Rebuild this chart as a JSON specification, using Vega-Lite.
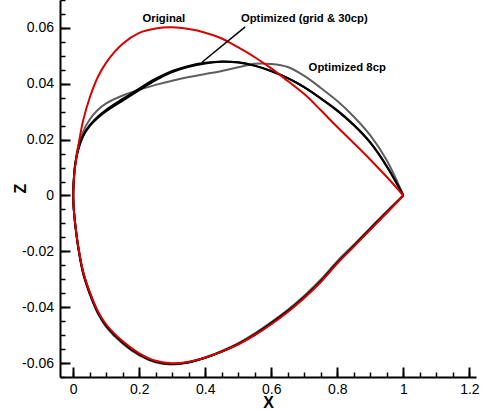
{
  "$schema": "https://vega.github.io/schema/vega-lite/v6.json",
  "width": 416,
  "height": 377,
  "autosize": {"type": "none"},
  "padding": {"left": 60, "top": 0, "right": 8, "bottom": 32},
  "background": "white",
  "config": {"view": {"stroke": null}, "font": "Liberation Sans"},
  "datasets": {
    "curves": [
      {"i": 0, "X": 1.0, "red": 0, "grid": 0, "cp30": 0, "cp8": 0},
      {"i": 1, "X": 0.95, "red": 0.0066, "grid": 0.0105, "cp30": 0.0103, "cp8": 0.0125},
      {"i": 2, "X": 0.9, "red": 0.0128, "grid": 0.019, "cp30": 0.0188, "cp8": 0.0215},
      {"i": 3, "X": 0.85, "red": 0.0187, "grid": 0.0253, "cp30": 0.0251, "cp8": 0.0282},
      {"i": 4, "X": 0.8, "red": 0.0245, "grid": 0.0305, "cp30": 0.0303, "cp8": 0.0338},
      {"i": 5, "X": 0.75, "red": 0.0305, "grid": 0.0348, "cp30": 0.0347, "cp8": 0.0385},
      {"i": 6, "X": 0.7, "red": 0.0363, "grid": 0.0388, "cp30": 0.0387, "cp8": 0.0428},
      {"i": 7, "X": 0.65, "red": 0.041, "grid": 0.042, "cp30": 0.042, "cp8": 0.046},
      {"i": 8, "X": 0.6, "red": 0.0455, "grid": 0.0445, "cp30": 0.0446, "cp8": 0.0471},
      {"i": 9, "X": 0.55, "red": 0.0495, "grid": 0.0464, "cp30": 0.0465, "cp8": 0.0472},
      {"i": 10, "X": 0.5, "red": 0.053, "grid": 0.0476, "cp30": 0.0477, "cp8": 0.0459},
      {"i": 11, "X": 0.45, "red": 0.0562, "grid": 0.0479, "cp30": 0.048, "cp8": 0.0446},
      {"i": 12, "X": 0.4, "red": 0.0583, "grid": 0.0473, "cp30": 0.0475, "cp8": 0.0435},
      {"i": 13, "X": 0.35, "red": 0.0596, "grid": 0.0461, "cp30": 0.0464, "cp8": 0.0424},
      {"i": 14, "X": 0.3, "red": 0.0602, "grid": 0.0442, "cp30": 0.0446, "cp8": 0.0411},
      {"i": 15, "X": 0.25, "red": 0.0598, "grid": 0.0413, "cp30": 0.0418, "cp8": 0.0396},
      {"i": 16, "X": 0.2, "red": 0.0582, "grid": 0.0377, "cp30": 0.0383, "cp8": 0.0379},
      {"i": 17, "X": 0.15, "red": 0.0543, "grid": 0.034, "cp30": 0.0346, "cp8": 0.0358},
      {"i": 18, "X": 0.1, "red": 0.0476, "grid": 0.0302, "cp30": 0.0307, "cp8": 0.033},
      {"i": 19, "X": 0.075, "red": 0.0425, "grid": 0.0278, "cp30": 0.0283, "cp8": 0.0307},
      {"i": 20, "X": 0.05, "red": 0.035, "grid": 0.0248, "cp30": 0.0252, "cp8": 0.0272},
      {"i": 21, "X": 0.03, "red": 0.0268, "grid": 0.0212, "cp30": 0.0215, "cp8": 0.0228},
      {"i": 22, "X": 0.015, "red": 0.0174, "grid": 0.0163, "cp30": 0.0165, "cp8": 0.0175},
      {"i": 23, "X": 0.006, "red": 0.0104, "grid": 0.011, "cp30": 0.0111, "cp8": 0.0112},
      {"i": 24, "X": 0.002, "red": 0.0056, "grid": 0.006, "cp30": 0.006, "cp8": 0.006},
      {"i": 25, "X": 0.0, "red": 0, "grid": 0, "cp30": 0, "cp8": 0},
      {"i": 26, "X": 0.002, "red": -0.0052, "grid": -0.0053, "cp30": -0.0053, "cp8": -0.0055},
      {"i": 27, "X": 0.006, "red": -0.01, "grid": -0.0102, "cp30": -0.0102, "cp8": -0.0105},
      {"i": 28, "X": 0.015, "red": -0.018, "grid": -0.0183, "cp30": -0.0183, "cp8": -0.0187},
      {"i": 29, "X": 0.03, "red": -0.0272, "grid": -0.0276, "cp30": -0.0276, "cp8": -0.0281},
      {"i": 30, "X": 0.05, "red": -0.0345, "grid": -0.0349, "cp30": -0.0349, "cp8": -0.0354},
      {"i": 31, "X": 0.075, "red": -0.0415, "grid": -0.0419, "cp30": -0.0419, "cp8": -0.0424},
      {"i": 32, "X": 0.1, "red": -0.0462, "grid": -0.0466, "cp30": -0.0466, "cp8": -0.0471},
      {"i": 33, "X": 0.15, "red": -0.0522, "grid": -0.0526, "cp30": -0.0526, "cp8": -0.0531},
      {"i": 34, "X": 0.2, "red": -0.0565, "grid": -0.0569, "cp30": -0.0569, "cp8": -0.0573},
      {"i": 35, "X": 0.25, "red": -0.0592, "grid": -0.0595, "cp30": -0.0595, "cp8": -0.0598},
      {"i": 36, "X": 0.3, "red": -0.0601, "grid": -0.0603, "cp30": -0.0603, "cp8": -0.0605},
      {"i": 37, "X": 0.35, "red": -0.0595, "grid": -0.0597, "cp30": -0.0597, "cp8": -0.0598},
      {"i": 38, "X": 0.4, "red": -0.058, "grid": -0.0581, "cp30": -0.0581, "cp8": -0.058},
      {"i": 39, "X": 0.45, "red": -0.0559, "grid": -0.0559, "cp30": -0.0559, "cp8": -0.0557},
      {"i": 40, "X": 0.5, "red": -0.0533, "grid": -0.0532, "cp30": -0.0532, "cp8": -0.0529},
      {"i": 41, "X": 0.55, "red": -0.05, "grid": -0.0498, "cp30": -0.0498, "cp8": -0.0494},
      {"i": 42, "X": 0.6, "red": -0.0461, "grid": -0.0458, "cp30": -0.0458, "cp8": -0.0453},
      {"i": 43, "X": 0.65, "red": -0.0417, "grid": -0.0414, "cp30": -0.0414, "cp8": -0.0409},
      {"i": 44, "X": 0.7, "red": -0.0367, "grid": -0.0364, "cp30": -0.0364, "cp8": -0.0359},
      {"i": 45, "X": 0.75, "red": -0.031, "grid": -0.0307, "cp30": -0.0307, "cp8": -0.0301},
      {"i": 46, "X": 0.8, "red": -0.0243, "grid": -0.0241, "cp30": -0.0241, "cp8": -0.0235},
      {"i": 47, "X": 0.85, "red": -0.0183, "grid": -0.0181, "cp30": -0.0181, "cp8": -0.0176},
      {"i": 48, "X": 0.9, "red": -0.0122, "grid": -0.012, "cp30": -0.012, "cp8": -0.0116},
      {"i": 49, "X": 0.95, "red": -0.0062, "grid": -0.006, "cp30": -0.006, "cp8": -0.0056},
      {"i": 50, "X": 1.0, "red": 0, "grid": 0, "cp30": 0, "cp8": 0}
    ],
    "notes": [
      {"label": "Original", "X": 0.21, "Z": 0.0623},
      {"label": "Optimized (grid & 30cp)", "X": 0.508, "Z": 0.0623},
      {"label": "Optimized 8cp", "X": 0.713, "Z": 0.0444}
    ],
    "leader": [
      {"X": 0.521, "Z": 0.0604, "X2": 0.39, "Z2": 0.0477}
    ]
  },
  "layer": [
    {
      "data": {"name": "curves"},
      "mark": {"type": "line", "color": "#5f5f5f", "strokeWidth": 2, "interpolate": "catmull-rom"},
      "encoding": {
        "x": {
          "field": "X", "type": "quantitative",
          "scale": {"domain": [-0.04, 1.22], "nice": false, "zero": false},
          "axis": {
            "orient": "bottom",
            "values": [0, 0.2, 0.4, 0.6, 0.8, 1, 1.2],
            "format": "~g",
            "labelExpr": "replace(datum.label, '\u2212', '-')",
            "title": "X",
            "grid": false,
            "tickSize": -10, "tickWidth": 2, "tickColor": "black",
            "domainColor": "black", "domainWidth": 2,
            "labelFont": "Liberation Sans", "labelFontSize": 14, "labelColor": "black",
            "labelPadding": 15, "labelFlush": false, "labelOverlap": false,
            "titleFont": "Liberation Sans", "titleFontSize": 16, "titleFontWeight": "bold", "titleColor": "black",
            "titleX": 208, "titleY": 30, "titleBaseline": "alphabetic", "titleAlign": "center"
          }
        },
        "y": {
          "field": "cp8", "type": "quantitative",
          "scale": {"domain": [-0.065, 0.07], "nice": false, "zero": false},
          "axis": {
            "orient": "left",
            "values": [-0.06, -0.04, -0.02, 0, 0.02, 0.04, 0.06],
            "format": "~g",
            "labelExpr": "replace(datum.label, '\u2212', '-')",
            "title": "Z",
            "grid": false,
            "tickSize": -10, "tickWidth": 2, "tickColor": "black",
            "domainColor": "black", "domainWidth": 2,
            "labelFont": "Liberation Sans", "labelFontSize": 14, "labelColor": "black",
            "labelPadding": 16.5, "labelFlush": false, "labelOverlap": false,
            "titleFont": "Liberation Sans", "titleFontSize": 16, "titleFontWeight": "bold", "titleColor": "black",
            "titleX": -35, "titleY": 188, "titleAngle": -90, "titleBaseline": "alphabetic", "titleAlign": "center"
          }
        },
        "order": {"field": "i", "type": "quantitative"}
      }
    },
    {
      "data": {"name": "curves"},
      "mark": {"type": "line", "color": "black", "strokeWidth": 2, "interpolate": "catmull-rom"},
      "encoding": {
        "x": {
          "field": "X", "type": "quantitative",
          "scale": {"domain": [-0.04, 1.22], "nice": false, "zero": false},
          "axis": {
            "orient": "bottom",
            "values": [0, 0.05, 0.1, 0.15, 0.2, 0.25, 0.3, 0.35, 0.4, 0.45, 0.5, 0.55, 0.6, 0.65, 0.7, 0.75, 0.8, 0.85, 0.9, 0.95, 1, 1.05, 1.1, 1.15, 1.2],
            "labels": false, "domain": false, "grid": false, "title": null,
            "tickSize": -5, "tickWidth": 1.5, "tickColor": "black"
          }
        },
        "y": {
          "field": "grid", "type": "quantitative",
          "scale": {"domain": [-0.065, 0.07], "nice": false, "zero": false},
          "axis": {
            "orient": "left",
            "values": [-0.065, -0.06, -0.055, -0.05, -0.045, -0.04, -0.035, -0.03, -0.025, -0.02, -0.015, -0.01, -0.005, 0, 0.005, 0.01, 0.015, 0.02, 0.025, 0.03, 0.035, 0.04, 0.045, 0.05, 0.055, 0.06, 0.065, 0.07],
            "labels": false, "domain": false, "grid": false, "title": null,
            "tickSize": -5, "tickWidth": 1.5, "tickColor": "black"
          }
        },
        "order": {"field": "i", "type": "quantitative"}
      }
    },
    {
      "data": {"name": "curves"},
      "mark": {"type": "line", "color": "black", "strokeWidth": 2, "interpolate": "catmull-rom"},
      "encoding": {
        "x": {"field": "X", "type": "quantitative", "scale": {"domain": [-0.04, 1.22], "nice": false, "zero": false}, "axis": null},
        "y": {"field": "cp30", "type": "quantitative", "scale": {"domain": [-0.065, 0.07], "nice": false, "zero": false}, "axis": null},
        "order": {"field": "i", "type": "quantitative"}
      }
    },
    {
      "data": {"name": "curves"},
      "mark": {"type": "line", "color": "#d80000", "strokeWidth": 2, "interpolate": "catmull-rom"},
      "encoding": {
        "x": {"field": "X", "type": "quantitative", "scale": {"domain": [-0.04, 1.22], "nice": false, "zero": false}, "axis": null},
        "y": {"field": "red", "type": "quantitative", "scale": {"domain": [-0.065, 0.07], "nice": false, "zero": false}, "axis": null},
        "order": {"field": "i", "type": "quantitative"}
      }
    },
    {
      "data": {"name": "leader"},
      "mark": {"type": "rule", "color": "black", "strokeWidth": 1.5},
      "encoding": {
        "x": {"field": "X", "type": "quantitative", "scale": {"domain": [-0.04, 1.22], "nice": false, "zero": false}, "axis": null},
        "y": {"field": "Z", "type": "quantitative", "scale": {"domain": [-0.065, 0.07], "nice": false, "zero": false}, "axis": null},
        "x2": {"field": "X2"},
        "y2": {"field": "Z2"}
      }
    },
    {
      "data": {"name": "notes"},
      "mark": {"type": "text", "align": "left", "baseline": "alphabetic", "font": "Liberation Sans", "fontWeight": "bold", "fontSize": 11.3, "color": "black"},
      "encoding": {
        "x": {"field": "X", "type": "quantitative", "scale": {"domain": [-0.04, 1.22], "nice": false, "zero": false}, "axis": null},
        "y": {"field": "Z", "type": "quantitative", "scale": {"domain": [-0.065, 0.07], "nice": false, "zero": false}, "axis": null},
        "text": {"field": "label", "type": "nominal"}
      }
    }
  ],
  "resolve": {"axis": {"x": "independent", "y": "independent"}}
}
